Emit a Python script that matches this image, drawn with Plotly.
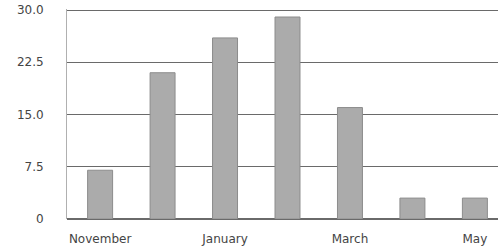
import plotly.graph_objects as go

months = ["November", "December", "January", "February", "March", "April", "May"]
values = [7, 21, 26, 29, 16, 3, 3]
shown_ticks = ["November", "January", "March", "May"]
y_ticks = [0, 7.5, 15, 22.5, 30]
y_tick_text = ["0", "7.5", "15.0", "22.5", "30.0"]

fig = go.Figure(go.Bar(
    x=months, y=values, width=0.4,
    marker=dict(color="#ababab", line=dict(color="#8c8c8c", width=1)),
    cliponaxis=False,
))

fig.update_layout(
    width=498, height=250,
    margin=dict(l=67, r=0, t=9, b=31, autoexpand=False),
    paper_bgcolor="white", plot_bgcolor="white",
    showlegend=False,
    font=dict(family="DejaVu Sans", size=12, color="#444444"),
)
fig.update_xaxes(
    type="category", range=[-0.53, 6.37], automargin=False,
    tickvals=shown_ticks, ticktext=shown_ticks,
    showgrid=False, showline=False, zeroline=False,
    ticks="outside", ticklen=9, tickcolor="rgba(0,0,0,0)",
)
fig.update_yaxes(
    range=[0, 30.15], tickvals=y_ticks, ticktext=y_tick_text, automargin=False,
    showgrid=True, gridcolor="#6a6a6a", gridwidth=1,
    showline=True, linecolor="#b0b0b0", linewidth=1,
    zeroline=True, zerolinecolor="#6a6a6a",
    ticks="outside", ticklen=20, tickcolor="rgba(0,0,0,0)",
)

fig.write_html(
    "out.html",
    config={"displayModeBar": False},
    post_script="document.body.style.margin='0';document.body.style.overflow='hidden';",
)
